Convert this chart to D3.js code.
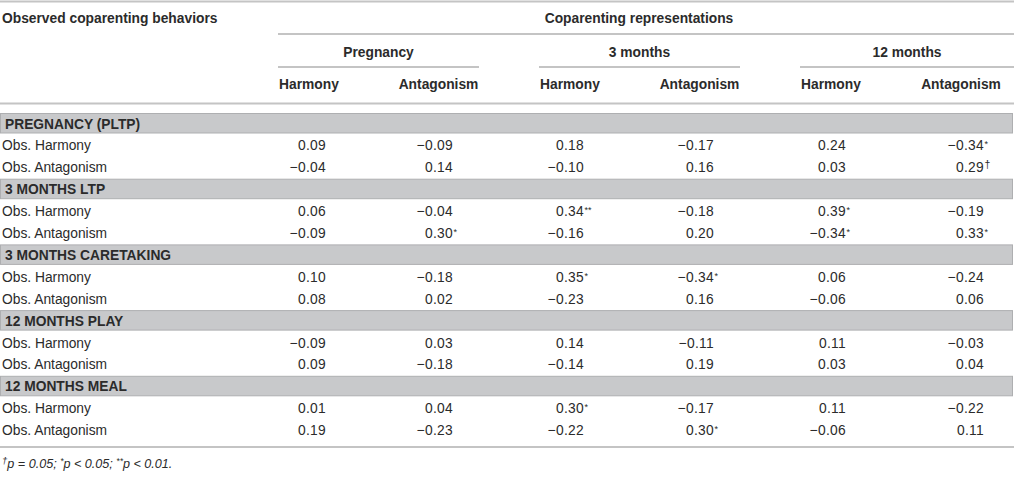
<!DOCTYPE html>
<html>
<head>
<meta charset="utf-8">
<script src="https://cdn.jsdelivr.net/npm/d3@7"></script>
<style>
  body { margin: 0; background: #fff; }
  text { font-family: "Liberation Sans", Arial, sans-serif; fill: #2b2b2b; }
</style>
</head>
<body>
<svg id="chart"></svg>
<script>
// table content
const groups = ['Pregnancy', '3 months', '12 months'];
const measures = ['Harmony', 'Antagonism'];
const sections = ['PREGNANCY (PLTP)', '3 MONTHS LTP', '3 MONTHS CARETAKING', '12 MONTHS PLAY', '12 MONTHS MEAL'];
const rowLabels = ['Obs. Harmony', 'Obs. Antagonism'];

// correlations, one row per section, columns: preg H, preg A, 3m H, 3m A, 12m H, 12m A
const harmonyValues = [
    [0.09, -0.09, 0.18, -0.17, 0.24, -0.34],
    [0.06, -0.04, 0.34, -0.18, 0.39, -0.19],
    [0.10, -0.18, 0.35, -0.34, 0.06, -0.24],
    [-0.09, 0.03, 0.14, -0.11, 0.11, -0.03],
    [0.01, 0.04, 0.30, -0.17, 0.11, -0.22],
];
const antagonismValues = [
    [-0.04, 0.14, -0.10, 0.16, 0.03, 0.29],
    [-0.09, 0.30, -0.16, 0.20, -0.34, 0.33],
    [0.08, 0.02, -0.23, 0.16, -0.06, 0.06],
    [0.09, -0.18, -0.14, 0.19, 0.03, 0.04],
    [0.19, -0.23, -0.22, 0.30, -0.06, 0.11],
];
const harmonySig = [
    ['', '', '', '', '', '*'],
    ['', '', '**', '', '*', ''],
    ['', '', '*', '*', '', ''],
    ['', '', '', '', '', ''],
    ['', '', '*', '', '', ''],
];
const antagonismSig = [
    ['', '', '', '', '', '†'],
    ['', '*', '', '', '*', '*'],
    ['', '', '', '', '', ''],
    ['', '', '', '', '', ''],
    ['', '', '', '*', '', ''],
];

const width = 1014;
const height = 499;
const lineColor = '#c4c4c4';
const bandColor = '#c8c9cb';
const fs = 13.8;

const svg = d3.select('#chart')
    .attr('width', width)
    .attr('height', height);

// column ids like "0-Harmony"
const columns = groups.flatMap((g, gi) => measures.map(m => gi + '-' + m));
const headerX = d3.scaleOrdinal().domain(columns).range([309, 438.5, 570, 699.5, 831, 961]);
const valueX = d3.scaleOrdinal().domain(columns).range([326, 453, 584, 714, 846, 984]);
const groupSpan = d3.scaleOrdinal().domain(groups).range([[278, 479], [539, 740], [800, 1014]]);

// flatten rows: section header + two data rows each
const rows = [];
sections.forEach((s, si) => {
    rows.push({ type: 'section', label: s });
    rows.push({ type: 'data', label: rowLabels[0], values: harmonyValues[si], sig: harmonySig[si] });
    rows.push({ type: 'data', label: rowLabels[1], values: antagonismValues[si], sig: antagonismSig[si] });
});
const y = d3.scaleLinear().domain([0, rows.length - 1]).range([123.5, 123.5 + (rows.length - 1) * 21.9]);

const fmt = v => (v < 0 ? '\u2212' : '') + d3.format('.2f')(Math.abs(v));

// rules
const hline = (x1, x2, yy) => svg.append('line')
    .attr('x1', x1).attr('x2', x2).attr('y1', yy).attr('y2', yy)
    .attr('stroke', lineColor).attr('stroke-width', 1.8);

hline(0, width, 1.5);
hline(278, width, 34);
groups.forEach(g => hline(groupSpan(g)[0], groupSpan(g)[1], 67));
hline(0, width, 103.5);
hline(0, width, 447);

// header text
svg.append('text').attr('x', 2).attr('y', 23)
    .attr('font-size', fs).attr('font-weight', 'bold')
    .text('Observed coparenting behaviors');
svg.append('text').attr('x', 639).attr('y', 23)
    .attr('text-anchor', 'middle')
    .attr('font-size', fs).attr('font-weight', 'bold')
    .text('Coparenting representations');

svg.selectAll('.group-title')
    .data(groups)
    .enter()
    .append('text')
        .attr('class', 'group-title')
        .attr('x', d => d3.mean(groupSpan(d)))
        .attr('y', 57)
        .attr('text-anchor', 'middle')
        .attr('font-size', fs).attr('font-weight', 'bold')
        .text(d => d);

svg.selectAll('.col-title')
    .data(columns)
    .enter()
    .append('text')
        .attr('class', 'col-title')
        .attr('x', d => headerX(d))
        .attr('y', 89)
        .attr('text-anchor', 'middle')
        .attr('font-size', fs).attr('font-weight', 'bold')
        .text(d => d.split('-')[1]);

// section bands
const sectionRows = rows.map((r, i) => ({ ...r, i })).filter(r => r.type === 'section');
svg.selectAll('.band')
    .data(sectionRows)
    .enter()
    .append('rect')
        .attr('class', 'band')
        .attr('x', 0.5)
        .attr('y', d => y(d.i) - 10)
        .attr('width', width - 2)
        .attr('height', 19.5)
        .attr('fill', bandColor)
        .attr('stroke', '#aeafb1')
        .attr('stroke-width', 1);

svg.selectAll('.band-label')
    .data(sectionRows)
    .enter()
    .append('text')
        .attr('class', 'band-label')
        .attr('x', 5)
        .attr('y', d => y(d.i) + 5)
        .attr('font-size', fs).attr('font-weight', 'bold')
        .attr('fill', '#1e1e1e')
        .text(d => d.label);

// data rows
const dataRows = rows.map((r, i) => ({ ...r, i })).filter(r => r.type === 'data');
const rowG = svg.selectAll('.row')
    .data(dataRows)
    .enter()
    .append('g')
        .attr('class', 'row')
        .attr('transform', d => `translate(0,${y(d.i) + 5})`);

rowG.append('text')
    .attr('x', 2)
    .attr('font-size', fs)
    .attr('fill', '#333')
    .text(d => d.label);

const cells = rowG.selectAll('.cell')
    .data(d => d.values.map((v, ci) => ({ v, sig: d.sig[ci], col: columns[ci] })))
    .enter()
    .append('g')
        .attr('class', 'cell');

cells.append('text')
    .attr('x', d => valueX(d.col))
    .attr('text-anchor', 'end')
    .attr('font-size', fs)
    .attr('letter-spacing', 0.3)
    .attr('fill', '#333')
    .text(d => fmt(d.v));

cells.filter(d => d.sig)
    .append('text')
        .attr('x', d => valueX(d.col) + 0.5)
        .attr('y', d => d.sig === '†' ? -4 : -3)
        .attr('font-size', d => d.sig === '†' ? 10.5 : 9)
        .attr('fill', '#333')
        .text(d => d.sig);

// footnote
const foot = svg.append('text')
    .attr('x', 2).attr('y', 468)
    .attr('font-size', 12.6).attr('font-style', 'italic')
    .attr('fill', '#333');
foot.append('tspan').attr('font-size', 9.5).attr('dy', -4).text('†');
foot.append('tspan').attr('dy', 4).text('p = 0.05; ');
foot.append('tspan').attr('font-size', 8.5).attr('dy', -4).text('*');
foot.append('tspan').attr('dy', 4).text('p < 0.05; ');
foot.append('tspan').attr('font-size', 8.5).attr('dy', -4).text('**');
foot.append('tspan').attr('dy', 4).text('p < 0.01.');
</script>
</body>
</html>
